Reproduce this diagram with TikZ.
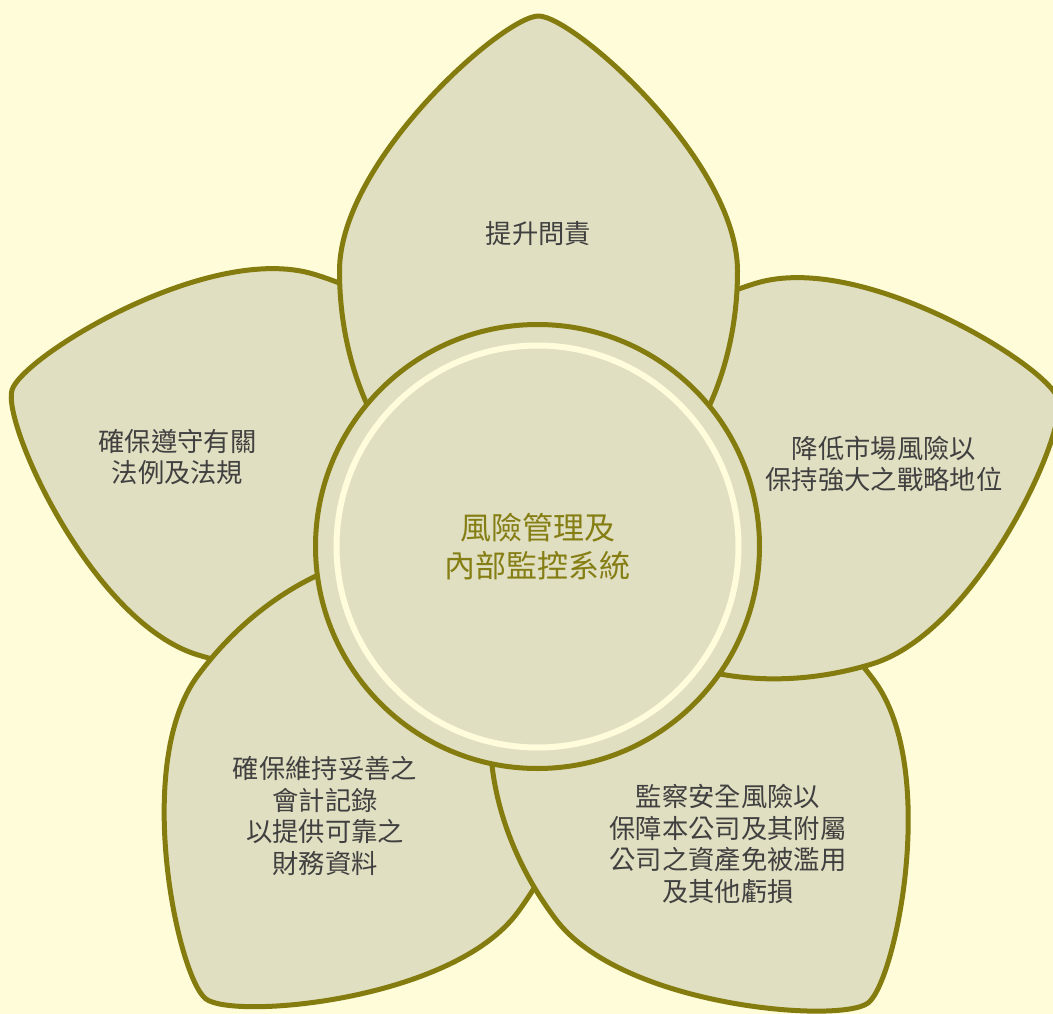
\documentclass[tikz,border=0pt]{standalone}
\usepackage{fontspec}
\newfontfamily\cjk{Noto Sans CJK TC}
\definecolor{bgcol}{HTML}{FFFCDA}
\definecolor{petalfill}{HTML}{E1DFC1}
\definecolor{olivestroke}{HTML}{847C0F}
\definecolor{titlecol}{HTML}{857E14}
\definecolor{textcol}{HTML}{404040}
\definecolor{ringcol}{HTML}{FFFCDC}
\tikzset{
  petalstyle/.style={fill=petalfill, draw=olivestroke, line width=5pt, line join=round},
  petalshape/.pic={\path[petalstyle] (0,0) .. controls (35,0) and (199,145) .. (199,255)
      .. controls (199,400) and (110,518) .. (0,518)
      .. controls (-110,518) and (-199,400) .. (-199,255)
      .. controls (-199,145) and (-35,0) .. cycle;},
  lbl/.style={font=\cjk\fontsize{26.3}{31.5}\selectfont, text=textcol, align=center, inner sep=0pt},
  ttl/.style={font=\cjk\fontsize{31}{38}\selectfont, text=titlecol, align=center}
}
\begin{document}
\begin{tikzpicture}[x=1pt,y=-1pt]
\useasboundingbox (0,0) rectangle (1053,1014);
\fill[bgcol] (0,0) rectangle (1053,1014);
\clip (0,0) rectangle (1053,1014);
% petals, back to front
\pic[rotate=73] at (12,390) {petalshape};
\pic[rotate=143.5] at (206,999) {petalshape};
\pic[rotate=-143] at (868,1003) {petalshape};
\pic[rotate=-73] at (1058,399) {petalshape};
\pic at (538.5,16) {petalshape};
% hub
\node[circle, draw=olivestroke, fill=petalfill, line width=5pt, minimum size=444pt, inner sep=0pt, ttl] (hub) at (537.5,546.5) {風險管理及\\內部監控系統};
\draw[ringcol, line width=6pt] (hub.center) circle[radius=201];
% labels
\node[lbl] (t1) at (538.5,234) {提升問責};
\node[lbl] (t2) at (884,464) {降低市場風險以\\保持強大之戰略地位};
\node[lbl] (t3) at (728,844) {監察安全風險以\\保障本公司及其附屬\\公司之資產免被濫用\\及其他虧損};
\node[lbl] (t4) at (325,816) {確保維持妥善之\\會計記錄\\以提供可靠之\\財務資料};
\node[lbl] (t5) at (177.5,457) {確保遵守有關\\法例及法規};
\end{tikzpicture}
\end{document}
